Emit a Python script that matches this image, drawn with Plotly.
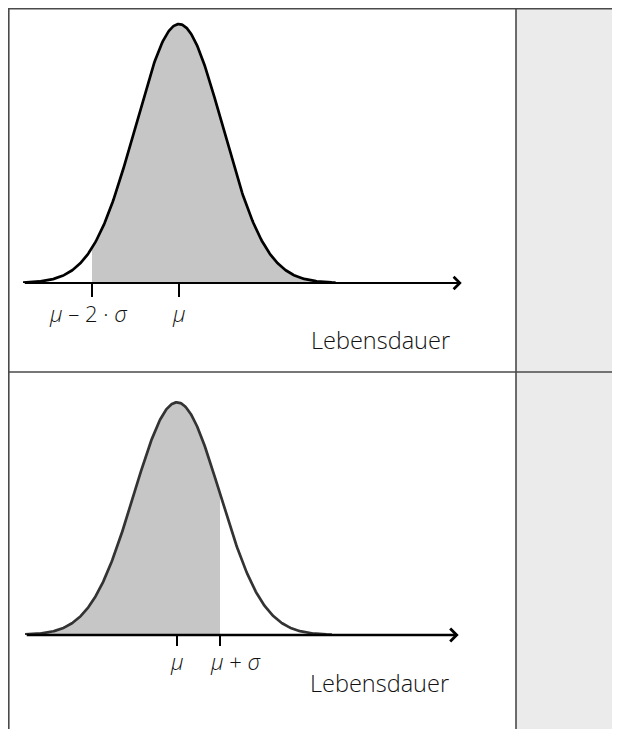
import numpy as np
import plotly.graph_objects as go

# normal distribution in standard units (mu = 0, sigma = 1)
mu = 0.0
sigma = 1.0
curve_from = -3.6
curve_to = 3.6

# top panel: area from mu - 2*sigma to the right
top_ticks = [-2, 0]
top_tick_labels = ["<i>μ</i> – 2 · <i>σ</i>", "<i>μ</i>"]
top_shade = [-2, 3.6]

# bottom panel: area from the left up to mu + sigma
bottom_ticks = [0, 1]
bottom_tick_labels = ["<i>μ</i>", "<i>μ</i> + <i>σ</i>"]
bottom_shade = [-3.6, 1]

axis_title = "Lebensdauer"

# the page body adds an 8px margin, so the figure starts at (8, 8)
OFF = 8
W, H = 620 - OFF, 729 - OFF
FONT = "Open Sans"
SHADE = "#c6c6c6"
BORDER = "#4a4a4a"


def pdf(z):
    return np.exp(-0.5 * ((z - mu) / sigma) ** 2) / (sigma * np.sqrt(2 * np.pi))


def px(x):
    return (x - OFF) / W


def py(y):
    return 1 - (y - OFF) / H


z = np.linspace(curve_from, curve_to, 400)

fig = go.Figure()

# shaded areas
zs = np.linspace(top_shade[0], top_shade[1], 300)
fig.add_trace(go.Scatter(x=zs, y=pdf(zs), fill="tozeroy", fillcolor=SHADE,
                         line=dict(width=0), mode="lines", xaxis="x", yaxis="y",
                         hoverinfo="skip"))
zs = np.linspace(bottom_shade[0], bottom_shade[1], 300)
fig.add_trace(go.Scatter(x=zs, y=pdf(zs), fill="tozeroy", fillcolor=SHADE,
                         line=dict(width=0), mode="lines", xaxis="x2", yaxis="y2",
                         hoverinfo="skip"))

# density curves
fig.add_trace(go.Scatter(x=z, y=pdf(z), mode="lines",
                         line=dict(color="black", width=2.7),
                         xaxis="x", yaxis="y", hoverinfo="skip"))
fig.add_trace(go.Scatter(x=z, y=pdf(z), mode="lines",
                         line=dict(color="#333333", width=2.7),
                         xaxis="x2", yaxis="y2", hoverinfo="skip"))

# axes with arrows
fig.add_annotation(x=6.50, y=0, ax=-3.58, ay=0, xref="x", yref="y",
                   axref="x", ayref="y", text="", showarrow=True,
                   arrowhead=4, arrowwidth=2, arrowsize=1.2, arrowcolor="black",
                   standoff=0)
fig.add_annotation(x=6.55, y=0, ax=-3.53, ay=0, xref="x2", yref="y2",
                   axref="x2", ayref="y2", text="", showarrow=True,
                   arrowhead=4, arrowwidth=2.5, arrowsize=1.0, arrowcolor="black",
                   standoff=0)

# tick labels
lab_font = dict(family=FONT, size=22, color="#111111", weight=300)
fig.add_annotation(x=top_ticks[0], y=0, xref="x", yref="y", text=top_tick_labels[0],
                   showarrow=False, xanchor="center", yanchor="middle",
                   xshift=-3, yshift=-30, font=lab_font)
fig.add_annotation(x=top_ticks[1], y=0, xref="x", yref="y", text=top_tick_labels[1],
                   showarrow=False, xanchor="center", yanchor="middle",
                   yshift=-30, font=lab_font)
fig.add_annotation(x=bottom_ticks[0], y=0, xref="x2", yref="y2", text=bottom_tick_labels[0],
                   showarrow=False, xanchor="center", yanchor="middle",
                   yshift=-26, font=lab_font)
fig.add_annotation(x=bottom_ticks[1], y=0, xref="x2", yref="y2", text=bottom_tick_labels[1],
                   showarrow=False, xanchor="center", yanchor="middle",
                   xshift=16, yshift=-26, font=lab_font)

title_font = dict(family=FONT, size=23.5, color="#111111", weight=300)
fig.add_annotation(x=px(452), y=py(340), xref="paper", yref="paper", text=axis_title,
                   showarrow=False, xanchor="right", yanchor="middle", font=title_font)
fig.add_annotation(x=px(451), y=py(683), xref="paper", yref="paper", text=axis_title,
                   showarrow=False, xanchor="right", yanchor="middle", font=title_font)

# table frame
shapes = [
    dict(type="rect", xref="paper", yref="paper", x0=px(516), x1=1.0, y0=0, y1=py(8),
         fillcolor="#ebebeb", line=dict(width=0), layer="below"),
    dict(type="line", xref="paper", yref="paper", x0=px(8), x1=1.0, y0=py(8.8), y1=py(8.8),
         line=dict(color=BORDER, width=1.6)),
    dict(type="line", xref="paper", yref="paper", x0=px(8), x1=1.0, y0=py(372), y1=py(372),
         line=dict(color=BORDER, width=1.6)),
    dict(type="line", xref="paper", yref="paper", x0=px(8.8), x1=px(8.8), y0=0, y1=py(8),
         line=dict(color=BORDER, width=1.6)),
    dict(type="line", xref="paper", yref="paper", x0=px(516), x1=px(516), y0=0, y1=py(8),
         line=dict(color=BORDER, width=1.6)),
]

common_x = dict(showgrid=False, zeroline=False, showline=False, ticks="outside",
                tickwidth=1.6, tickcolor="black", showticklabels=False,
                fixedrange=True)
common_y = dict(visible=False, showgrid=False, zeroline=False, fixedrange=True)

fig.update_layout(
    width=W, height=H,
    margin=dict(l=0, r=0, t=0, b=0),
    paper_bgcolor="white", plot_bgcolor="rgba(0,0,0,0)",
    showlegend=False,
    shapes=shapes,
    xaxis=dict(common_x, domain=[px(23), px(463)], range=[-3.586, 6.529],
               tickvals=top_ticks, ticklen=13, anchor="y"),
    yaxis=dict(common_y, domain=[py(283), py(8)], range=[0, 0.4237], anchor="x"),
    xaxis2=dict(common_x, domain=[px(25), px(460)], range=[-3.535, 6.581],
                tickvals=bottom_ticks, ticklen=10, anchor="y2"),
    yaxis2=dict(common_y, domain=[py(635), py(372)], range=[0, 0.451], anchor="x2"),
)

fig.write_html("out.html")
